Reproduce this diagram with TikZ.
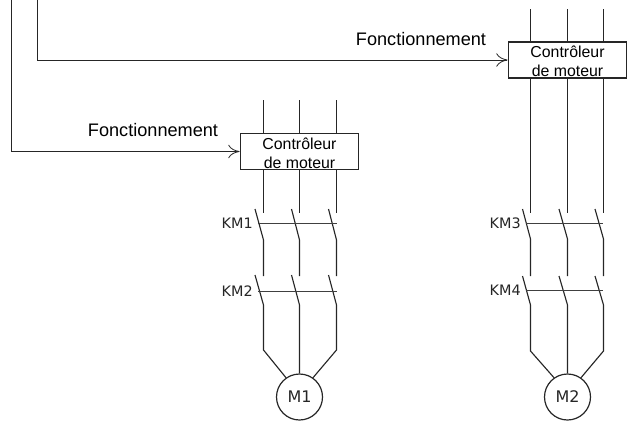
\documentclass[tikz,border=0pt]{standalone}
\usepackage{fontspec}
\setmainfont{Liberation Sans}
\newfontfamily\kmfont{DejaVu Sans}
\usetikzlibrary{arrows.meta}
\tikzstyle{wire}=[line width=.85pt,black!85]
\tikzstyle{link}=[line width=.6pt,black!75]
\tikzstyle{feed}=[line width=.7pt,black!85,-{To[length=8.5pt,width=10pt,line width=.6pt]}]
\tikzstyle{controller}=[draw,line width=.8pt,black!85,fill=white,inner sep=0pt,minimum width=89pt,minimum height=27pt,align=center,text=black,font=\fontsize{11.9}{14.2}\selectfont]
\tikzstyle{label}=[inner sep=0pt,text=black,font=\fontsize{13.6}{16}\selectfont]
\tikzstyle{contact}=[inner sep=0pt,anchor=east,text=black!85,font=\kmfont\fontsize{10.8}{12}\selectfont]
\tikzstyle{motor}=[draw,circle,line width=.9pt,black!85,inner sep=0pt,minimum size=34.5pt,text=black!85,font=\kmfont\fontsize{12}{12}\selectfont]

\begin{document}
\begin{tikzpicture}[x=.75pt,y=-.75pt]
  \useasboundingbox (0,0) rectangle (627,421);
  % left branch
  \node[controller] (ctrlA) at (299.5,151.5) {\rule{0pt}{11pt}Contr\^oleur\\de moteur};
  \node[motor] (mA) at (299.5,397) {M1};
  \node[label] (lblA) at (153,130) {Fonctionnement};
  \node[contact] (kmA) at (253,223) {KM1};
  \node[contact] (kmB) at (253,291) {KM2};
  \coordinate (srcA) at (11,0);
  \coordinate (turnA) at (11,151.5);
  \draw[line width=.7pt,black!85] (srcA) -- (turnA);
  \draw[feed] (turnA) -- (ctrlA.west);
  \coordinate (a1) at (263.5,100);
  \coordinate (a2) at (299.5,100);
  \coordinate (a3) at (336.5,100);
  \draw[wire] (a1) -- (a1 |- ctrlA.north);
  \draw[wire] (a2) -- (ctrlA.north);
  \draw[wire] (a3) -- (a3 |- ctrlA.north);
  \coordinate (b1) at (263.5,213);
  \coordinate (b2) at (299.5,213);
  \coordinate (b3) at (336.5,213);
  \draw[wire] (b1 |- ctrlA.south) -- (b1);
  \draw[wire] (ctrlA.south) -- (b2);
  \draw[wire] (b3 |- ctrlA.south) -- (b3);
  % first contact
  \coordinate (c1) at (263.5,240);
  \coordinate (c2) at (299.5,240);
  \coordinate (c3) at (336.5,240);
  \coordinate (d1) at (263.5,276);
  \coordinate (d2) at (299.5,276);
  \coordinate (d3) at (336.5,276);
  \draw[wire] (255,209) -- (c1) -- (d1);
  \draw[wire] (291.5,209) -- (c2) -- (d2);
  \draw[wire] (328.5,209) -- (c3) -- (d3);
  \draw[link] (kmA.east) ++(5,0) -- (337,223);
  % second contact
  \coordinate (e1) at (263.5,305);
  \coordinate (e2) at (299.5,305);
  \coordinate (e3) at (336.5,305);
  \coordinate (f1) at (263.5,350);
  \coordinate (f3) at (336.5,350);
  \draw[wire] (255,275) -- (e1) -- (f1) -- (mA.125);
  \draw[wire] (291.5,275) -- (e2) -- (mA.north);
  \draw[wire] (328.5,275) -- (e3) -- (f3) -- (mA.55);
  \draw[link] (kmB.east) ++(5,0) -- (337,291);
  % right branch
  \node[controller] (ctrlB) at (567.5,60) {\rule{0pt}{11pt}Contr\^oleur\\de moteur};
  \node[motor] (mB) at (567.5,397) {M2};
  \node[label] (lblB) at (421,39) {Fonctionnement};
  \node[contact] (kmC) at (521,223) {KM3};
  \node[contact] (kmD) at (521,290) {KM4};
  \coordinate (srcB) at (37,0);
  \coordinate (turnB) at (37,60);
  \draw[line width=.7pt,black!85] (srcB) -- (turnB);
  \draw[feed] (turnB) -- (ctrlB.west);
  \coordinate (g1) at (530.5,9);
  \coordinate (g2) at (567.5,9);
  \coordinate (g3) at (603.5,9);
  \draw[wire] (g1) -- (g1 |- ctrlB.north);
  \draw[wire] (g2) -- (ctrlB.north);
  \draw[wire] (g3) -- (g3 |- ctrlB.north);
  \coordinate (h1) at (530.5,213);
  \coordinate (h2) at (567.5,213);
  \coordinate (h3) at (603.5,213);
  \draw[wire] (h1 |- ctrlB.south) -- (h1);
  \draw[wire] (ctrlB.south) -- (h2);
  \draw[wire] (h3 |- ctrlB.south) -- (h3);
  % third contact
  \coordinate (i1) at (530.5,239);
  \coordinate (i2) at (567.5,239);
  \coordinate (i3) at (603.5,239);
  \coordinate (j1) at (530.5,276);
  \coordinate (j2) at (567.5,276);
  \coordinate (j3) at (603.5,276);
  \draw[wire] (522.5,209) -- (i1) -- (j1);
  \draw[wire] (559,209) -- (i2) -- (j2);
  \draw[wire] (595,209) -- (i3) -- (j3);
  \draw[link] (kmC.east) ++(5,0) -- (603,223);
  % fourth contact
  \coordinate (k1) at (530.5,305);
  \coordinate (k2) at (567.5,305);
  \coordinate (k3) at (603.5,305);
  \coordinate (l1) at (530.5,351);
  \coordinate (l3) at (603.5,351);
  \draw[wire] (522.5,276) -- (k1) -- (l1) -- (mB.125);
  \draw[wire] (559,276) -- (k2) -- (mB.north);
  \draw[wire] (595,276) -- (k3) -- (l3) -- (mB.55);
  \draw[link] (kmD.east) ++(5,0) -- (603,290);
\end{tikzpicture}
\end{document}
